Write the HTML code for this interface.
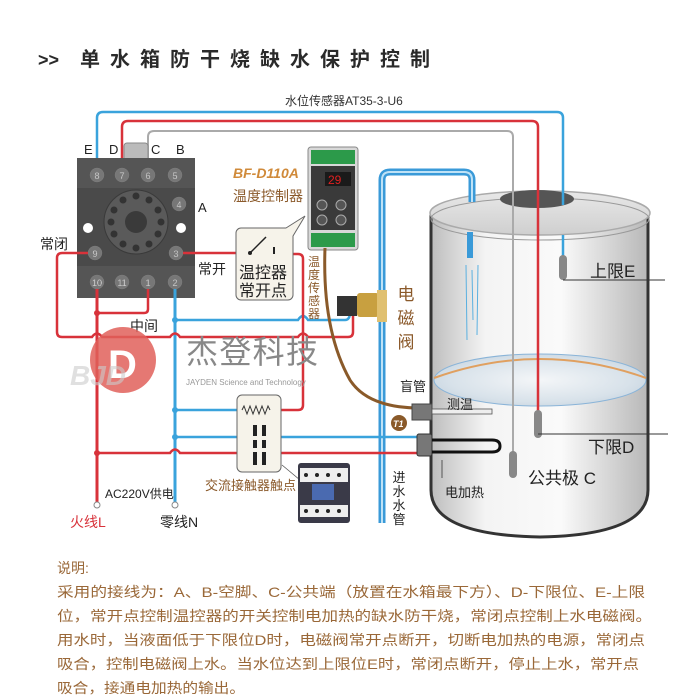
<!DOCTYPE html>
<html><head><meta charset="utf-8"><style>
html,body{margin:0;padding:0;background:#fff;}
svg{display:block;}
text{font-family:"Liberation Sans","Noto Sans CJK SC",sans-serif;}
</style></head><body>
<svg width="700" height="696" viewBox="0 0 700 696" xmlns="http://www.w3.org/2000/svg">
<defs>
<linearGradient id="tank" x1="0" x2="1" y1="0" y2="0">
<stop offset="0" stop-color="#bdbdbd"/><stop offset="0.25" stop-color="#f4f4f4"/><stop offset="0.6" stop-color="#fafafa"/><stop offset="1" stop-color="#b8b8b8"/>
</linearGradient>
<linearGradient id="top" x1="0" x2="0" y1="0" y2="1">
<stop offset="0" stop-color="#e8e8e8"/><stop offset="1" stop-color="#cfcfcf"/>
</linearGradient>
<radialGradient id="water" cx="0.5" cy="0.5" r="0.6">
<stop offset="0" stop-color="#f4f6f8"/><stop offset="0.7" stop-color="#d8e2ea"/><stop offset="1" stop-color="#c4d2de"/>
</radialGradient>
</defs>

<!-- title -->
<text x="38" y="66" font-size="18" font-weight="bold" fill="#2a2a2a">&gt;&gt;</text>
<text x="80" y="66" font-size="20" font-weight="bold" fill="#2a2a2a" textLength="350" lengthAdjust="spacing">单水箱防干烧缺水保护控制</text>

<!-- tank -->
<path d="M431,213 L431,490 Q431,535 540,537 Q648,535 648,490 L648,213 Z" fill="url(#tank)" stroke="#333" stroke-width="3"/>
<ellipse cx="540" cy="213" rx="110" ry="22" fill="url(#top)" stroke="#aaa" stroke-width="1.5"/>
<ellipse cx="540" cy="219" rx="109" ry="21" fill="none" stroke="#999" stroke-width="1"/>
<ellipse cx="537" cy="199" rx="37" ry="9" fill="#555"/>
<ellipse cx="540" cy="380" rx="106" ry="26" fill="url(#water)" stroke="#8ab4d8" stroke-width="1"/>
<path d="M434,378 Q540,340 646,378" fill="none" stroke="#e0a060" stroke-width="2"/>

<!-- sensor wires -->
<path d="M97,165 L97,118 Q97,112 103,112 L557,112 Q563,112 563,118 L563,205" fill="none" stroke="#3aa3dc" stroke-width="2.5"/>
<path d="M563,235 L563,258" stroke="#3aa3dc" stroke-width="2.5"/>
<path d="M122,165 L122,127 Q122,121 128,121 L532,121 Q538,121 538,127 L538,412" fill="none" stroke="#d8323a" stroke-width="2.5"/>
<path d="M148,165 L148,137 Q148,131 154,131 L507,131 Q513,131 513,137 L513,453" fill="none" stroke="#aaa" stroke-width="2"/>
<text x="285" y="105" font-size="12" fill="#333">水位传感器AT35-3-U6</text>
<!-- probes -->
<rect x="559" y="255" width="8" height="25" rx="4" fill="#888"/>
<rect x="534" y="410" width="8" height="28" rx="4" fill="#888"/>
<rect x="509" y="451" width="8" height="27" rx="4" fill="#888"/>
<line x1="563" y1="280" x2="665" y2="280" stroke="#333" stroke-width="1"/>
<line x1="538" y1="434" x2="668" y2="434" stroke="#333" stroke-width="1"/>
<text x="590" y="277" font-size="17" fill="#222">上限E</text>
<text x="588" y="453" font-size="17" fill="#222">下限D</text>
<text x="528" y="484" font-size="17" fill="#222">公共极 C</text>

<!-- inlet pipe -->
<path d="M382,523 L382,180 Q382,172 390,172 L464,172 Q472,172 472,180 L472,202" fill="none" stroke="#3a9ad8" stroke-width="7"/>
<path d="M382,523 L382,180 Q382,172 390,172 L464,172 Q472,172 472,180 L472,202" fill="none" stroke="#bfe2f6" stroke-width="2"/>
<rect x="467" y="232" width="6" height="26" fill="#3a9ad8"/>
<path d="M466,265 L467,340 M472,270 L473,320 M478,265 L477,335" stroke="#5ab0e0" stroke-width="1"/>

<!-- relay base -->
<rect x="124" y="143" width="24" height="18" rx="3" fill="#bbb" stroke="#888"/>
<rect x="77" y="158" width="118" height="140" fill="#4a4a4a"/>
<rect x="77" y="158" width="118" height="30" fill="#555"/>
<rect x="77" y="266" width="118" height="32" fill="#555"/>
<circle cx="136" cy="222" r="32" fill="#5a5a5a" stroke="#3a3a3a"/>
<circle cx="136" cy="222" r="11" fill="#3a3a3a"/>
<g fill="#333">
<circle cx="136" cy="196" r="3.5"/><circle cx="149" cy="200" r="3.5"/><circle cx="158" cy="210" r="3.5"/><circle cx="161" cy="222" r="3.5"/><circle cx="158" cy="234" r="3.5"/><circle cx="149" cy="244" r="3.5"/><circle cx="136" cy="248" r="3.5"/><circle cx="123" cy="244" r="3.5"/><circle cx="114" cy="234" r="3.5"/><circle cx="111" cy="222" r="3.5"/><circle cx="114" cy="210" r="3.5"/><circle cx="123" cy="200" r="3.5"/>
</g>
<circle cx="88" cy="228" r="5" fill="#fff"/><circle cx="181" cy="228" r="5" fill="#fff"/>
<g font-size="9" fill="#eee" text-anchor="middle" stroke="#888" stroke-width="0.3">
<g fill="#777"><circle cx="97" cy="175" r="7"/><circle cx="122" cy="175" r="7"/><circle cx="148" cy="175" r="7"/><circle cx="175" cy="175" r="7"/><circle cx="179" cy="204" r="7"/><circle cx="95" cy="253" r="7"/><circle cx="176" cy="253" r="7"/><circle cx="97" cy="282" r="7"/><circle cx="122" cy="282" r="7"/><circle cx="148" cy="282" r="7"/><circle cx="175" cy="282" r="7"/></g>
<text x="97" y="179">8</text><text x="122" y="179">7</text><text x="148" y="179">6</text><text x="175" y="179">5</text><text x="179" y="208">4</text><text x="95" y="257">9</text><text x="176" y="257">3</text><text x="97" y="286">10</text><text x="122" y="286">11</text><text x="148" y="286">1</text><text x="175" y="286">2</text>
</g>
<g font-size="13" fill="#222"><text x="84" y="154">E</text><text x="109" y="154">D</text><text x="151" y="154">C</text><text x="176" y="154">B</text><text x="198" y="212">A</text></g>
<text x="40" y="249" font-size="14" fill="#222">常闭</text>
<text x="198" y="274" font-size="14" fill="#222">常开</text>

<!-- L / N lines -->
<path d="M97,289 L97,502" stroke="#d8323a" stroke-width="3"/>
<path d="M97,313 L144,313 Q148,313 148,309 L148,289" fill="none" stroke="#d8323a" stroke-width="2.5"/>
<path d="M175,289 L175,502" stroke="#3aa3dc" stroke-width="3"/>
<circle cx="97" cy="313" r="3" fill="#d8323a"/>
<circle cx="97" cy="453" r="3" fill="#d8323a"/>
<circle cx="175" cy="320" r="3" fill="#3aa3dc"/><circle cx="175" cy="410" r="3" fill="#3aa3dc"/><circle cx="175" cy="437" r="3" fill="#3aa3dc"/>
<circle cx="97" cy="505" r="3" fill="#fff" stroke="#888"/><circle cx="175" cy="505" r="3" fill="#fff" stroke="#888"/>
<!-- NC loop -->
<path d="M88,253 L62,253 Q57,253 57,258 L57,332 Q57,337 62,337 L92,337 Q97,330 102,337 L170,337 Q175,330 180,337 L298,337 Q303,330 308,337 L348,337 Q353,337 353,332 L353,310" fill="none" stroke="#d8323a" stroke-width="2.5"/>
<path d="M175,320 L298,320 Q303,312 308,320 L345,320 Q350,320 350,312 L350,305" fill="none" stroke="#3aa3dc" stroke-width="2.5"/>
<text x="130" y="331" font-size="14" fill="#222">中间</text>
<!-- NO to coil -->
<path d="M183,253 L250,253 M274,254 L298,254 Q303,254 303,259 L303,405 Q303,410 298,410 L278,410" fill="none" stroke="#d8323a" stroke-width="2.5"/>
<path d="M175,410 L240,410" stroke="#3aa3dc" stroke-width="2.5"/>
<path d="M175,437 L417,437" stroke="#3aa3dc" stroke-width="2.5"/>
<path d="M97,453 L170,453 Q175,446 180,453 L417,453" fill="none" stroke="#d8323a" stroke-width="2.5"/>

<!-- temp contact box -->
<rect x="236" y="228" width="57" height="72" rx="5" fill="#f6f3ea" stroke="#666" stroke-width="1"/>
<path d="M286,228 L305,216 L293,236" fill="#f6f3ea" stroke="#666" stroke-width="1"/>
<line x1="250" y1="253" x2="266" y2="237" stroke="#222" stroke-width="1.5"/>
<circle cx="250" cy="253" r="2" fill="#222"/>
<line x1="274" y1="247" x2="274" y2="254" stroke="#222" stroke-width="2"/>
<text x="239" y="278" font-size="16" fill="#222">温控器</text>
<text x="239" y="296" font-size="16" fill="#222">常开点</text>

<!-- coil box -->
<rect x="237" y="395" width="44" height="77" rx="5" fill="#f6f3ea" stroke="#666" stroke-width="1"/>
<path d="M242,410 l2,-4 l3,8 l3,-8 l3,8 l3,-8 l3,8 l3,-8 l3,8 l3,-8 l2,4" fill="none" stroke="#333" stroke-width="1"/>
<rect x="253" y="425" width="4" height="40" fill="#222"/><rect x="262" y="425" width="4" height="40" fill="#222"/>
<rect x="250" y="436" width="20" height="4" fill="#f6f3ea"/><rect x="250" y="448" width="20" height="4" fill="#f6f3ea"/>
<text x="205" y="490" font-size="13" fill="#8b5a2b">交流接触器触点</text>
<!-- contactor -->
<path d="M282,465 L300,480" stroke="#555" stroke-width="0.8"/>
<rect x="298" y="463" width="52" height="60" rx="3" fill="#3a3a48"/>
<rect x="300" y="468" width="48" height="14" fill="#eee"/>
<rect x="300" y="505" width="48" height="12" fill="#eee"/>
<rect x="312" y="484" width="22" height="16" fill="#4a6ab0"/>
<g fill="#222"><circle cx="306" cy="475" r="2"/><circle cx="317" cy="475" r="2"/><circle cx="328" cy="475" r="2"/><circle cx="339" cy="475" r="2"/><circle cx="306" cy="511" r="2"/><circle cx="317" cy="511" r="2"/><circle cx="328" cy="511" r="2"/><circle cx="339" cy="511" r="2"/></g>

<!-- temperature controller -->
<rect x="308" y="147" width="50" height="103" rx="3" fill="#d8d8d8" stroke="#888"/>
<rect x="311" y="150" width="44" height="14" fill="#2c9a4a"/>
<rect x="311" y="233" width="44" height="14" fill="#2c9a4a"/>
<rect x="311" y="166" width="44" height="64" fill="#3a3a3a"/>
<rect x="325" y="172" width="26" height="14" fill="#1a1a1a"/>
<text x="328" y="184" font-size="12" fill="#e02020" font-family="Liberation Mono">29</text>
<circle cx="322" cy="205" r="5" fill="#555" stroke="#aaa"/><circle cx="341" cy="205" r="5" fill="#555" stroke="#aaa"/>
<circle cx="322" cy="220" r="5" fill="#555" stroke="#aaa"/><circle cx="341" cy="220" r="5" fill="#555" stroke="#aaa"/>
<text x="233" y="178" font-size="14" font-weight="bold" font-style="italic" fill="#d08a3a">BF-D110A</text>
<text x="233" y="201" font-size="14" fill="#8b5a2b">温度控制器</text>
<g font-size="12" fill="#8b5a2b" text-anchor="middle"><text x="314" y="266">温</text><text x="314" y="279">度</text><text x="314" y="292">传</text><text x="314" y="305">感</text><text x="314" y="318">器</text></g>
<!-- brown sensor wire -->
<path d="M325,248 Q322,330 350,380 Q368,408 420,408" fill="none" stroke="#8a5a2a" stroke-width="3"/>
<circle cx="399" cy="423" r="8" fill="#8a5a2a"/>
<text x="393" y="427" font-size="9" font-weight="bold" font-style="italic" fill="#fff">T1</text>
<!-- sensor probe -->
<rect x="412" y="404" width="20" height="16" fill="#777" stroke="#444"/>
<rect x="432" y="409" width="60" height="5" fill="#eee" stroke="#555" stroke-width="0.8"/>
<text x="400" y="391" font-size="13" fill="#222">盲管</text>
<text x="447" y="409" font-size="13" fill="#222">测温</text>
<!-- valve -->
<rect x="337" y="296" width="20" height="20" fill="#333"/>
<rect x="357" y="293" width="22" height="24" rx="3" fill="#c8a040"/>
<rect x="377" y="290" width="10" height="32" fill="#e0c070"/>
<g font-size="17" fill="#8b5a2b" text-anchor="middle"><text x="406" y="300">电</text><text x="406" y="324">磁</text><text x="406" y="348">阀</text></g>
<!-- heater -->
<rect x="417" y="434" width="15" height="22" rx="2" fill="#777" stroke="#333"/>
<path d="M432,440 L492,440 Q500,440 500,446 Q500,452 492,452 L432,452" fill="none" stroke="#111" stroke-width="3"/>
<line x1="442" y1="460" x2="442" y2="478" stroke="#555"/>
<text x="445" y="497" font-size="13" fill="#222">电加热</text>
<g font-size="13" fill="#222" text-anchor="middle"><text x="399" y="482">进</text><text x="399" y="496">水</text><text x="399" y="510">水</text><text x="399" y="524">管</text></g>

<!-- logo & watermark -->
<circle cx="123" cy="360" r="33" fill="#e0605a" opacity="0.85"/>
<text x="108" y="378" font-size="40" font-weight="bold" fill="#fff" font-family="Liberation Serif">D</text>
<text x="70" y="385" font-size="28" font-weight="bold" fill="#ccc" opacity="0.6" font-style="italic">BJD</text>
<text x="186" y="363" font-size="32" fill="#888" textLength="132">杰登科技</text>
<text x="186" y="385" font-size="8" fill="#999" font-family="Liberation Serif">JAYDEN Science and Technology</text>

<text x="105" y="498" font-size="12" fill="#222">AC220V供电</text>
<text x="70" y="527" font-size="14" fill="#d8323a">火线L</text>
<text x="160" y="527" font-size="14" fill="#222">零线N</text>

<!-- description -->
<g font-size="14" fill="#9a6838">
<text x="57" y="573">说明:</text>
<text x="57" y="597" textLength="588" lengthAdjust="spacingAndGlyphs">采用的接线为：A、B-空脚、C-公共端（放置在水箱最下方）、D-下限位、E-上限</text>
<text x="57" y="621" textLength="595" lengthAdjust="spacingAndGlyphs">位，常开点控制温控器的开关控制电加热的缺水防干烧，常闭点控制上水电磁阀。</text>
<text x="57" y="645" textLength="588" lengthAdjust="spacingAndGlyphs">用水时，当液面低于下限位D时，电磁阀常开点断开，切断电加热的电源，常闭点</text>
<text x="57" y="669" textLength="582" lengthAdjust="spacingAndGlyphs">吸合，控制电磁阀上水。当水位达到上限位E时，常闭点断开，停止上水，常开点</text>
<text x="57" y="693" textLength="188" lengthAdjust="spacingAndGlyphs">吸合，接通电加热的输出。</text>
</g>
</svg>
</body></html>
